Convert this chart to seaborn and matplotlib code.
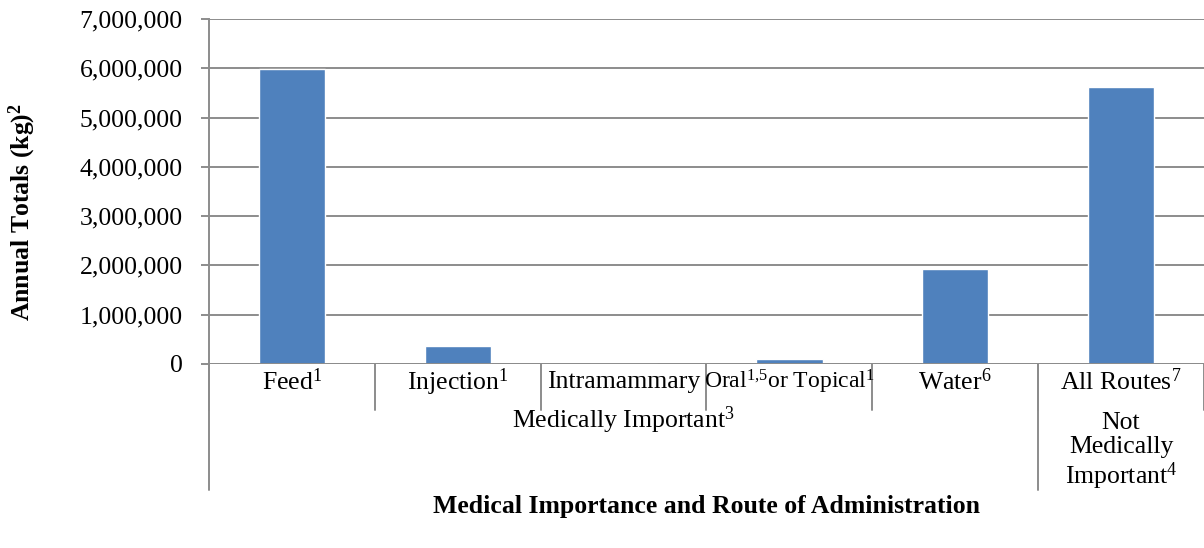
import numpy as np
import pandas as pd
import matplotlib
matplotlib.use('Agg')
import matplotlib.pyplot as plt
import matplotlib.transforms as mtransforms
import seaborn as sns

routes = ['Feed$^1$', 'Injection$^1$', 'Intramammary',
          'Oral$^{1{,}5}$or Topical$^1$', 'Water$^6$', 'All Routes$^7$']
totals = [5990000, 365000, 12000, 100000, 1930000, 5620000]
groups = ['Medically Important$^3$', 'Not\nMedically\nImportant$^4$']
group_spans = [(0, 4), (5, 5)]
yticks = [0, 1000000, 2000000, 3000000, 4000000, 5000000, 6000000, 7000000]

sns.set_theme(style='white')
plt.rcParams['font.family'] = ['Liberation Serif', 'DejaVu Serif']
plt.rcParams['mathtext.fontset'] = 'custom'
plt.rcParams['mathtext.rm'] = 'Liberation Serif'
plt.rcParams['mathtext.bf'] = 'Liberation Serif:bold'
plt.rcParams['mathtext.it'] = 'Liberation Serif:italic'
plt.rcParams['text.color'] = 'black'
plt.rcParams['ytick.labelcolor'] = 'black'

grey = '#8c8c8c'
fs = 18.5

fig = plt.figure(figsize=(12.04, 5.48), dpi=100)
ax = fig.add_axes([209 / 1204, 1 - 364 / 548, 995 / 1204, 345 / 548])

df = pd.DataFrame({'route': routes, 'total': totals})
sns.barplot(data=df, x='route', y='total', color='#4F81BD', width=0.4,
            saturation=1, ax=ax, zorder=3)

ax.set_xlim(-0.5, len(routes) - 0.5)
ax.set_ylim(0, 7000000)
ax.set_yticks(yticks)
ax.set_yticklabels([f'{v:,}' for v in yticks], fontsize=fs, color='black')
ax.yaxis.grid(True, color=grey, linewidth=1.4, zorder=0)
ax.set_axisbelow(True)
ax.tick_params(axis='y', left=True, length=6, width=1.4, color=grey, pad=13)
ax.set_xticks([])
ax.set_xlabel('')
ax.set_ylabel('')
for s in ['top', 'right', 'bottom']:
    ax.spines[s].set_visible(False)
ax.spines['left'].set_color(grey)
ax.spines['left'].set_linewidth(1.4)
ax.axhline(0, color=grey, linewidth=1.4, zorder=4)

fig.text(22 / 1204, 1 - 212 / 548, 'Annual Totals (kg)$^\\mathbf{2}$',
         rotation=90, ha='center', va='center', fontsize=fs, fontweight='bold')

trans = mtransforms.blended_transform_factory(ax.transData, ax.transAxes)

# first row: route labels with short separators
for i, lab in enumerate(routes):
    size = fs if i != 3 else 17
    ax.text(i, -0.052, lab, transform=trans, ha='center', va='center', fontsize=size)
for b in np.arange(-0.5, len(routes) - 0.4, 1.0):
    ax.plot([b, b], [0, -0.133], transform=trans, color=grey, linewidth=1.4,
            clip_on=False)

# second row: group labels with long separators
for lab, (a, b) in zip(groups, group_spans):
    yc = -0.162 if '\n' not in lab else -0.255
    ax.text((a + b) / 2, yc, lab, transform=trans, ha='center', va='center',
            fontsize=fs, linespacing=1.12)
for b in [-0.5, 4.5]:
    ax.plot([b, b], [0, -0.365], transform=trans, color=grey, linewidth=1.4,
            clip_on=False)

ax.text(0.5, -0.412, 'Medical Importance and Route of Administration',
        transform=ax.transAxes, ha='center', va='center', fontsize=fs,
        fontweight='bold')

fig.savefig('out.png', dpi=100)
